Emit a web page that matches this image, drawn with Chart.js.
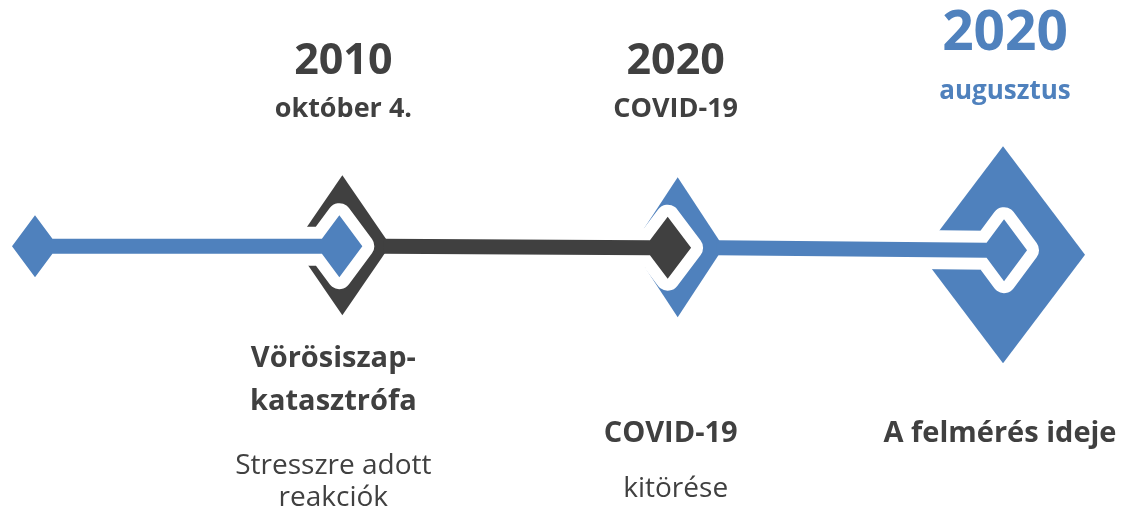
<!DOCTYPE html>
<html>
<head>
<meta charset="utf-8">
<script src="https://cdn.jsdelivr.net/npm/chart.js@4/dist/chart.umd.min.js"></script>
<style>
  html, body { margin: 0; padding: 0; background: #ffffff; }
  #wrap { width: 1122px; height: 515px; }
</style>
</head>
<body>
<div id="wrap"><canvas id="c" width="1122" height="515"></canvas></div>
<script>
// ---- data ----
const eventKeys   = ['start', '2010', '2020-covid', '2020-aug'];
const timelinePos = [0, 1, 2, 3];
const years       = ['', '2010', '2020', '2020'];
const dates       = ['', 'október 4.', 'COVID-19', 'augusztus'];
const titles      = [[], ['Vörösiszap-', 'katasztrófa'], ['COVID-19'], ['A felmérés ideje']];
const descs       = [[], ['Stresszre adott', 'reakciók'], ['kitörése'], []];

// ---- styles ----
const DARK = '#404040';
const BLUE = '#4F81BD';
const FONT = '"Open Sans", "Noto Sans", sans-serif';
const LINE_HALF = 7.5;
const markerStyle = [
  { start: true, hw: 23, hh: 31, color: BLUE, dy: -1 },
  { outer: { dx: -1, dy: -2, hw: 48, hh: 70, color: DARK }, inner: { dx: -4, dy: -1, hw: 23, hh: 31, color: BLUE } },
  { outer: { dx: 3,  dy: 0,  hw: 46, hh: 70, color: BLUE }, inner: { dx: -7, dy: 0.5, hw: 23.4, hh: 31, color: DARK } },
  { outer: { dx: -3, dy: 7.5, hw: 82, hh: 108.5, color: BLUE }, inner: { dx: -2, dy: 3, hw: 23, hh: 31, color: BLUE } }
];
const textStyle = [
  null,
  { yearFont: 'bold 43px ' + FONT, yearColor: DARK, yearY: 74, dateFont: 'bold 27px ' + FONT, dateColor: DARK, dateY: 117, dx: 0 },
  { yearFont: 'bold 43px ' + FONT, yearColor: DARK, yearY: 74, dateFont: 'bold 27px ' + FONT, dateColor: DARK, dateY: 117, dx: 1 },
  { yearFont: 'bold 55px ' + FONT, yearColor: BLUE, yearY: 50, dateFont: 'bold 26px ' + FONT, dateColor: BLUE, dateY: 99, dx: -1 }
];
const bottomStyle = [
  null,
  { titleDx: -10, descDx: -10, titleY: [367, 410], descY: [474, 506] },
  { titleDx: -4,  descDx: 1,   titleY: [442], descY: [497] },
  { titleDx: -6,  descDx: -6,  titleY: [442], descY: [] }
];
const TITLE_FONT = 'bold 29px ' + FONT;
const DESC_FONT = '28px ' + FONT;

function diamond(ctx, cx, cy, hw, hh) {
  ctx.beginPath();
  ctx.moveTo(cx - hw, cy);
  ctx.lineTo(cx, cy - hh);
  ctx.lineTo(cx + hw, cy);
  ctx.lineTo(cx, cy + hh);
  ctx.closePath();
}

// connector: from (x0,y0) line start (or start-diamond) to inner diamond
function connectorPath(ctx, startShape, x0, y0, inner) {
  const ix = inner.cx, iy = inner.cy, ihw = inner.hw, ihh = inner.hh;
  const ixl = ix - ihw * (1 - LINE_HALF / ihh);
  ctx.beginPath();
  if (startShape) {
    const s = startShape; // left tip at x0
    const sx = x0 + s.hw;
    const ex = sx + s.hw * (1 - LINE_HALF / s.hh);
    ctx.moveTo(x0, y0);
    ctx.lineTo(sx, y0 - s.hh);
    ctx.lineTo(ex, y0 - LINE_HALF);
    ctx.lineTo(ixl, iy - LINE_HALF);
    ctx.lineTo(ix, iy - ihh);
    ctx.lineTo(ix + ihw, iy);
    ctx.lineTo(ix, iy + ihh);
    ctx.lineTo(ixl, iy + LINE_HALF);
    ctx.lineTo(ex, y0 + LINE_HALF);
    ctx.lineTo(sx, y0 + s.hh);
  } else {
    ctx.moveTo(x0, y0 - LINE_HALF);
    ctx.lineTo(ixl, iy - LINE_HALF);
    ctx.lineTo(ix, iy - ihh);
    ctx.lineTo(ix + ihw, iy);
    ctx.lineTo(ix, iy + ihh);
    ctx.lineTo(ixl, iy + LINE_HALF);
    ctx.lineTo(x0, y0 + LINE_HALF);
  }
  ctx.closePath();
}

const timelinePlugin = {
  id: 'timeline',
  afterDatasetsDraw(chart) {
    const ctx = chart.ctx;
    const pts = chart.getDatasetMeta(0).data;
    ctx.save();
    let prev = null; // {x, y, color, startShape}
    pts.forEach((p, i) => {
      const st = markerStyle[i];
      if (st.start) {
        prev = { x: p.x, y: p.y + st.dy, color: st.color, startShape: st };
        return;
      }
      const o = st.outer, n = st.inner;
      const ocx = p.x + o.dx, ocy = p.y + o.dy;
      const inner = { cx: p.x + n.dx, cy: p.y + n.dy, hw: n.hw, hh: n.hh };
      // outer diamond
      ctx.fillStyle = o.color;
      diamond(ctx, ocx, ocy, o.hw, o.hh);
      ctx.fill();
      // white gap around incoming connector, only near this marker
      ctx.save();
      ctx.beginPath();
      ctx.rect(ocx - o.hw - 6, 0, chart.width, chart.height);
      ctx.clip();
      connectorPath(ctx, null, prev.x, prev.y, inner);
      ctx.strokeStyle = '#ffffff';
      ctx.lineWidth = 24;
      ctx.lineJoin = 'round';
      ctx.stroke();
      ctx.restore();
      // connector fill
      connectorPath(ctx, prev.startShape, prev.x, prev.y, inner);
      ctx.fillStyle = prev.color;
      ctx.fill();
      // next connector starts at the right tip of this outer diamond
      const lineY = p.y + n.dy;
      const tipX = ocx + o.hw * (1 - Math.abs(lineY - ocy + LINE_HALF) / o.hh) - 1.5;
      prev = { x: tipX, y: lineY, color: o.color, startShape: null };
    });

    // texts
    ctx.textAlign = 'center';
    ctx.textBaseline = 'alphabetic';
    pts.forEach((p, i) => {
      const ts = textStyle[i];
      if (!ts) return;
      ctx.font = ts.yearFont;
      ctx.fillStyle = ts.yearColor;
      ctx.fillText(years[i], p.x + ts.dx, ts.yearY);
      ctx.font = ts.dateFont;
      ctx.fillStyle = ts.dateColor;
      ctx.fillText(dates[i], p.x + ts.dx, ts.dateY);
      const bs = bottomStyle[i];
      ctx.fillStyle = DARK;
      ctx.font = TITLE_FONT;
      titles[i].forEach((t, k) => ctx.fillText(t, p.x + bs.titleDx, bs.titleY[k]));
      ctx.font = DESC_FONT;
      descs[i].forEach((t, k) => ctx.fillText(t, p.x + bs.descDx, bs.descY[k]));
    });
    ctx.restore();
  }
};

new Chart(document.getElementById('c'), {
  type: 'scatter',
  data: {
    labels: eventKeys,
    datasets: [{
      data: timelinePos.map(v => ({ x: v, y: 0 })),
      pointRadius: 0,
      pointHoverRadius: 0,
      showLine: false
    }]
  },
  options: {
    responsive: false,
    animation: false,
    events: [],
    layout: { padding: { left: 12, right: 0, top: 0, bottom: 0 } },
    plugins: { legend: { display: false }, tooltip: { enabled: false } },
    scales: {
      x: { type: 'linear', display: false, min: 0, max: 3.35 },
      y: { type: 'linear', display: false, min: -1.04, max: 0.96 }
    }
  },
  plugins: [timelinePlugin]
});
</script>
</body>
</html>
